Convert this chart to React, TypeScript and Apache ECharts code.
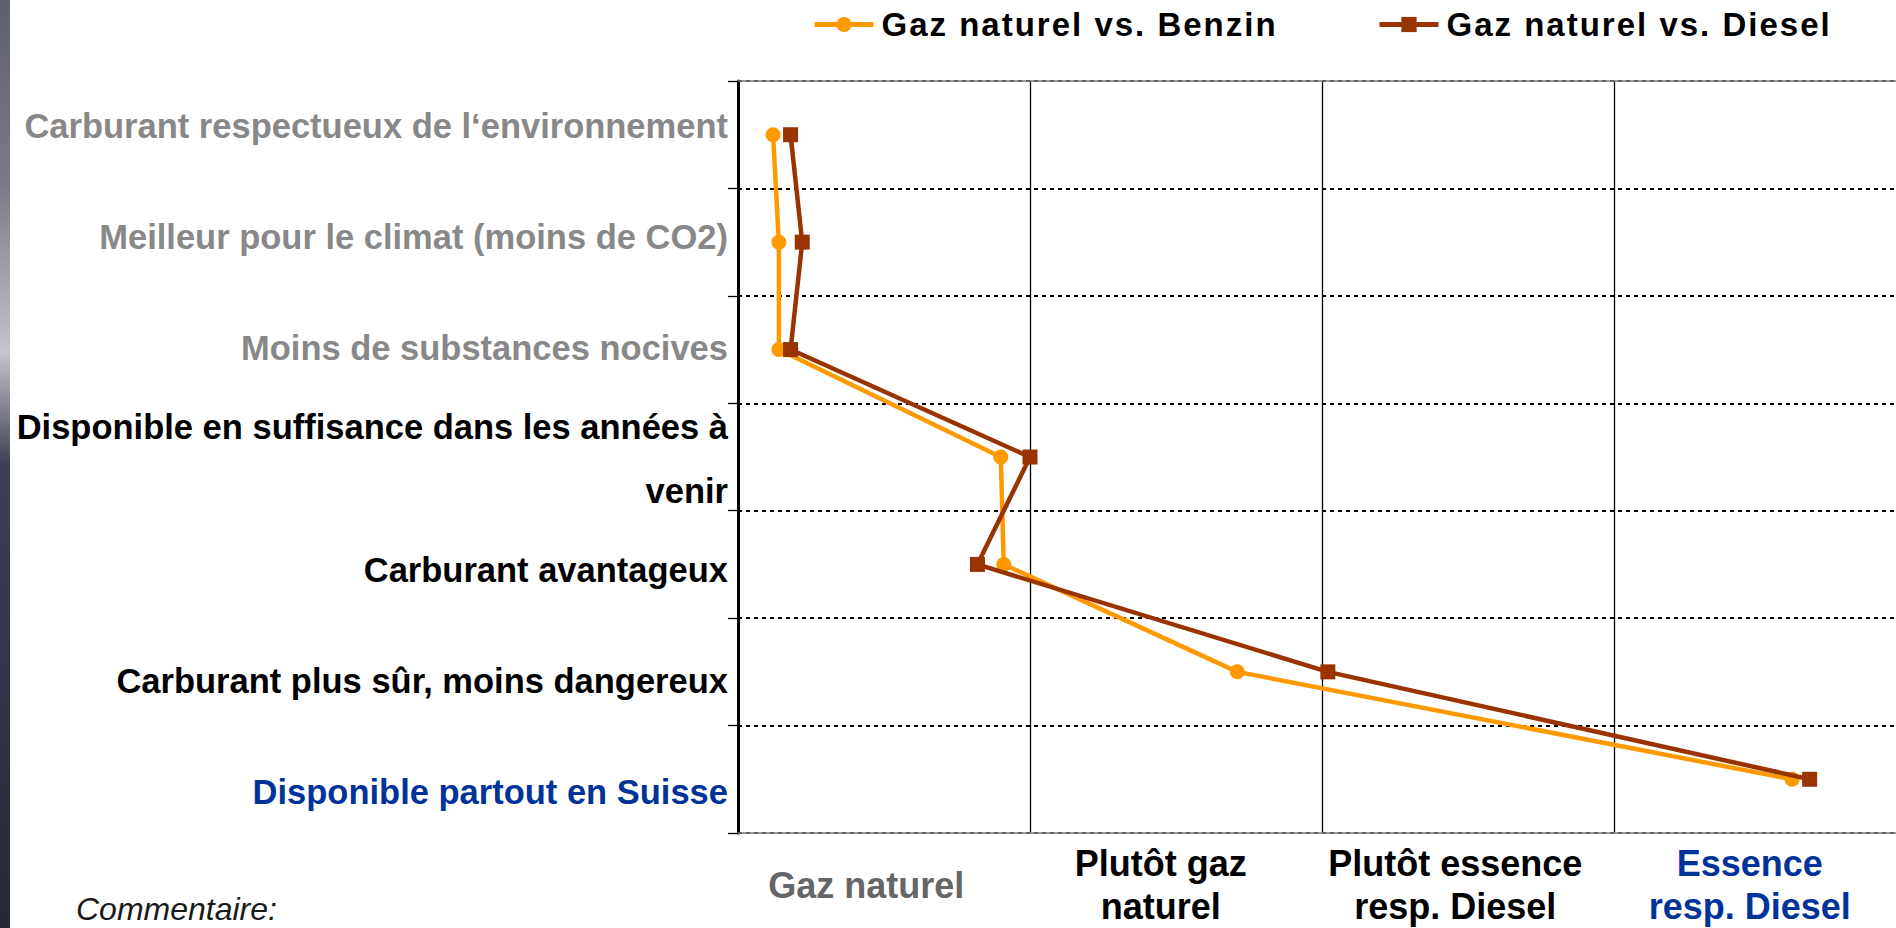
import React, { useEffect, useRef } from "react";
import * as echarts from "echarts";

// ---- data ----
const rowLabels = [
  "Carburant respectueux de l‘environnement",
  "Meilleur pour le climat (moins de CO2)",
  "Moins de substances nocives",
  "Disponible en suffisance dans les années à\nvenir",
  "Carburant avantageux",
  "Carburant plus sûr, moins dangereux",
  "Disponible partout en Suisse",
];
const rowColors = ["#888888", "#888888", "#888888", "#000000", "#000000", "#000000", "#003399"];
const scaleLabels = ["Gaz naturel", "Plutôt gaz\nnaturel", "Plutôt essence\nresp. Diesel", "Essence\nresp. Diesel"];
const scaleColors = ["#666666", "#000000", "#000000", "#003399"];
const seriesNames = ["Gaz naturel vs. Benzin", "Gaz naturel vs. Diesel"];
const benzinValues = [0.12, 0.14, 0.14, 0.9, 0.91, 1.71, 3.61];
const dieselValues = [0.18, 0.22, 0.18, 1.0, 0.82, 2.02, 3.67];
const scaleMin = 0;
const scaleMax = 4;
const commentText = "Commentaire:";

const FONT = "'Liberation Sans', Arial, sans-serif";

export default function App() {
  const ref = useRef<HTMLDivElement | null>(null);

  useEffect(() => {
    if (!ref.current) return;
    const chart = echarts.init(ref.current, undefined, { renderer: "svg" });
    const legendBase = {
      top: 8,
      padding: 0,
      itemWidth: 59,
      itemHeight: 19,
      lineStyle: { width: 5 },
      textStyle: { fontSize: 33, fontWeight: "bold", color: "#000", fontFamily: FONT, padding: [0, 0, 0, 3] },
    };
    const option: any = {
      animation: false,
      backgroundColor: "#ffffff",
      grid: [
        { left: 738, top: 81, width: 1168, height: 752, containLabel: false },
        { left: 738, top: 71, width: 1168, height: 776, containLabel: false },
        { left: 719, top: 81, width: 1178, height: 752, containLabel: false },
      ],
      legend: [
        { ...legendBase, data: [seriesNames[0]], left: 812 },
        { ...legendBase, data: [seriesNames[1]], left: 1377 },
      ],
      xAxis: [
        {
          gridIndex: 0,
          type: "value",
          min: scaleMin,
          max: scaleMax,
          interval: 1,
          position: "top",
          axisLine: { show: true, lineStyle: { color: "#808080", width: 1.5 } },
          axisTick: { show: false },
          axisLabel: { show: false },
          splitLine: { show: true, lineStyle: { color: "#000000", width: 1.3 } },
        },
        {
          gridIndex: 2,
          type: "category",
          data: scaleLabels,
          position: "bottom",
          axisLine: { show: false },
          axisTick: { show: false },
          splitLine: { show: false },
          axisLabel: {
            interval: 0,
            margin: 57,
            verticalAlign: "middle",
            fontSize: 36,
            fontWeight: "bold",
            lineHeight: 43,
            fontFamily: FONT,
            color: (_v: any, i: number) => scaleColors[i],
          },
        },
        { gridIndex: 1, type: "value", show: false },
        {
          gridIndex: 0,
          type: "value",
          min: scaleMin,
          max: scaleMax,
          position: "bottom",
          axisLine: { show: true, lineStyle: { color: "#808080", width: 1.5 } },
          axisTick: { show: false },
          axisLabel: { show: false },
          splitLine: { show: false },
        },
      ],
      yAxis: [
        {
          gridIndex: 0,
          type: "category",
          data: rowLabels,
          inverse: true,
          boundaryGap: true,
          axisLine: { show: true, lineStyle: { color: "#000000", width: 3 } },
          axisTick: { show: true, interval: 0, length: 10, lineStyle: { color: "#000000", width: 1.3 } },
          axisLabel: { show: false, interval: 0 },
          splitLine: { show: true, interval: 0, lineStyle: { color: "#000000", width: 2, type: [4, 4] } },
        },
        {
          gridIndex: 1,
          type: "category",
          data: rowLabels,
          inverse: true,
          axisLine: { show: false },
          axisTick: { show: false },
          splitLine: { show: false },
          axisLabel: {
            interval: 0,
            margin: 10,
            fontSize: 34.5,
            fontWeight: "bold",
            lineHeight: 64,
            align: "right",
            fontFamily: FONT,
            color: (_v: any, i: number) => rowColors[i],
          },
        },
        { gridIndex: 2, type: "value", show: false },
      ],
      series: [
        {
          type: "line",
          name: seriesNames[0],
          xAxisIndex: 0,
          yAxisIndex: 0,
          data: benzinValues.map((v, i) => [v, i]),
          symbol: "circle",
          symbolSize: 15,
          lineStyle: { color: "#FF9900", width: 4.5 },
          itemStyle: { color: "#FF9900" },
          z: 2,
        },
        {
          type: "line",
          name: seriesNames[1],
          xAxisIndex: 0,
          yAxisIndex: 0,
          data: dieselValues.map((v, i) => [v, i]),
          symbol: "rect",
          symbolSize: 15,
          lineStyle: { color: "#993300", width: 4.5 },
          itemStyle: { color: "#993300" },
          z: 3,
        },
      ],
      graphic: [
        {
          type: "rect",
          left: 0,
          top: 0,
          shape: { width: 10, height: 928 },
          style: {
            fill: new echarts.graphic.LinearGradient(0, 0, 0, 1, [
              { offset: 0, color: "#5e606c" },
              { offset: 0.2, color: "#7a7b86" },
              { offset: 0.38, color: "#c4c4ca" },
              { offset: 0.5, color: "#3e4052" },
              { offset: 1, color: "#262838" },
            ]),
          },
          silent: true,
        },
        {
          type: "text",
          left: 76,
          top: 892,
          style: {
            text: commentText,
            fontSize: 32,
            lineHeight: 34,
            fontStyle: "italic",
            fontFamily: FONT,
            fill: "#1a1a1a",
          },
          silent: true,
        },
      ],
    };
    chart.setOption(option);
    ref.current.querySelectorAll("text").forEach((t) => {
      if ((t.textContent || "").startsWith("Gaz naturel vs.")) {
        t.setAttribute("letter-spacing", "2");
      }
    });
    return () => chart.dispose();
  }, []);

  return (
    <div style={{ position: "absolute", left: 0, top: 0, width: 1896, height: 928, overflow: "hidden" }}>
      <div ref={ref} style={{ width: 1912, height: 928 }} />
    </div>
  );
}
